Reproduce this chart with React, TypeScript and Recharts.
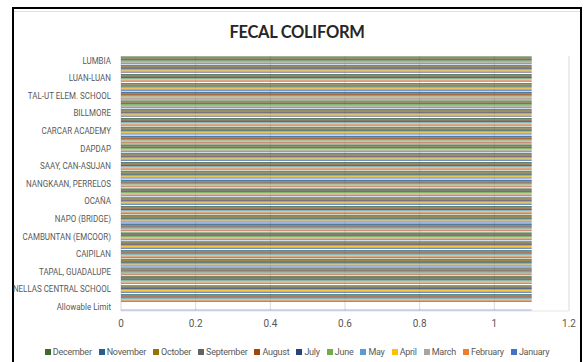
import React from 'react';
import { BarChart, Bar, XAxis, YAxis, CartesianGrid, Legend } from 'recharts';

// Monthly fecal coliform readings (MPN/100mL) per sampling station
const months = [
  'January', 'February', 'March', 'April', 'May', 'June',
  'July', 'August', 'September', 'October', 'November', 'December',
];

const monthColors: Record<string, string> = {
  January: '#4472C4',
  February: '#ED7D31',
  March: '#A5A5A5',
  April: '#FFC000',
  May: '#5B9BD5',
  June: '#70AD47',
  July: '#264478',
  August: '#9E480E',
  September: '#636363',
  October: '#997300',
  November: '#255E91',
  December: '#43682B',
};

// top to bottom; the axis only has room for every other station name
const stations = [
  'LUMBIA', '',
  'LUAN-LUAN', '',
  'TAL-UT ELEM. SCHOOL', '',
  'BILLMORE', '',
  'CARCAR ACADEMY', '',
  'DAPDAP', '',
  'SAAY, CAN-ASUJAN', '',
  'NANGKAAN, PERRELOS', '',
  'OCAÑA', '',
  'NAPO (BRIDGE)', '',
  'CAMBUNTAN (EMCOOR)', '',
  'CAIPILAN', '',
  'TAPAL, GUADALUPE', '',
  'NELLAS CENTRAL SCHOOL', '',
  'Allowable Limit',
];

// every station reads <1.1 all year
const stationMpn = [
  1.1, 1.1, 1.1, 1.1, 1.1, 1.1, 1.1, 1.1, 1.1, 1.1, 1.1, 1.1, 1.1, 1.1,
  1.1, 1.1, 1.1, 1.1, 1.1, 1.1, 1.1, 1.1, 1.1, 1.1, 1.1, 1.1, 1.1, 1.1,
];

// limit row only carries a January value
const allowableLimit = 1.1;

const xTicks = [0, 0.2, 0.4, 0.6, 0.8, 1, 1.2];

const rows = stations.map((name, i) => {
  const row: Record<string, string | number | null> = { name };
  months.forEach((m) => {
    if (i < stationMpn.length) row[m] = stationMpn[i];
    else row[m] = m === 'January' ? allowableLimit : null;
  });
  return row;
});

// December sits on top of each group, January at the bottom
const barOrder = [...months].reverse();

const FONT = "Roboto, Lato, sans-serif";
const TEXT = '#595959';

// plain svg text, squeezed a little so long station names fit beside the axis
const StationTick = (props: any) => {
  const { x, y, payload } = props;
  return (
    <text
      transform={`translate(${x} ${y}) scale(0.84 1)`}
      dy="0.35em"
      textAnchor="end"
      fontSize={9.5}
      fill={TEXT}
      fontFamily={FONT}
    >
      {payload.value}
    </text>
  );
};

const MonthLegend = (props: any) => {
  const items = [...(props.payload || [])].sort(
    (a: any, b: any) => barOrder.indexOf(a.value) - barOrder.indexOf(b.value),
  );
  return (
    <div style={{ display: 'flex', justifyContent: 'center', gap: 7, fontSize: 9, lineHeight: '12px', fontFamily: FONT, color: TEXT, letterSpacing: -0.25 }}>
      {items.map((it: any) => (
        <span key={it.value} style={{ display: 'flex', alignItems: 'center', gap: 2 }}>
          <span style={{ width: 6, height: 6, background: it.color, display: 'inline-block' }} />
          {it.value}
        </span>
      ))}
    </div>
  );
};

export default function App() {
  return (
    <div
      style={{
        position: 'absolute',
        left: 0,
        top: 0,
        width: 585,
        height: 362,
        background: '#fff',
        overflow: 'hidden',
        fontFamily: FONT,
      }}
    >
      <div
        style={{
          position: 'absolute',
          left: 12,
          top: 7,
          width: 570,
          height: 400,
          boxSizing: 'border-box',
          border: '2px solid #000',
        }}
      />
      <div
        style={{
          position: 'absolute',
          left: 14,
          top: 11,
          width: 566,
          height: 1,
          background: '#d6e6e8',
        }}
      />
      <div
        style={{
          position: 'absolute',
          left: 14,
          top: 22,
          width: 566,
          textAlign: 'center',
          fontSize: 16.5,
          fontWeight: 'bold',
          letterSpacing: -0.3,
          color: '#262626',
          fontFamily: "Lato, sans-serif",
        }}
      >
        FECAL COLIFORM
      </div>
      <BarChart
        width={585}
        height={362}
        data={rows}
        layout="vertical"
        margin={{ top: 56, right: 16, bottom: 4, left: 0 }}
        barGap={0}
        barCategoryGap="6%"
        style={{ position: 'absolute', left: 0, top: 0 }}
      >
        <CartesianGrid horizontal={false} stroke="#d9d9d9" />
        <XAxis
          type="number"
          domain={[0, 1.2]}
          ticks={xTicks}
          axisLine={{ stroke: '#e6e6e6' }}
          tickLine={false}
          tickMargin={3}
          height={35}
          tick={{ fontSize: 10, fill: TEXT, fontFamily: FONT }}
        />
        <YAxis
          type="category"
          dataKey="name"
          width={121}
          interval={1}
          axisLine={false}
          tickLine={false}
          tickMargin={4}
          tick={<StationTick />}
        />
        <Legend
          verticalAlign="bottom"
          content={<MonthLegend />}
          wrapperStyle={{ left: 13, width: 568 }}
        />
        {barOrder.map((m) => (
          <Bar key={m} dataKey={m} fill={monthColors[m]} isAnimationActive={false} />
        ))}
      </BarChart>
    </div>
  );
}
